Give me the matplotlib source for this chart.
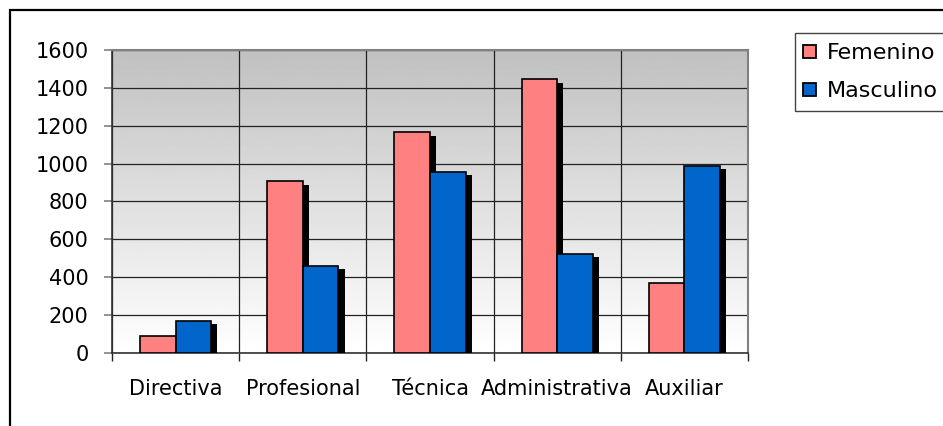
import numpy as np
import matplotlib
matplotlib.use('Agg')
import matplotlib.pyplot as plt
from matplotlib.patches import Rectangle, Patch
import matplotlib.patheffects as pe

categorias = ['Directiva', 'Profesional', 'Técnica', 'Administrativa', 'Auxiliar']
femenino = [90, 908, 1165, 1445, 370]
masculino = [170, 461, 957, 523, 989]
series_names = ['Femenino', 'Masculino']
yticks = [0, 200, 400, 600, 800, 1000, 1200, 1400, 1600]

colorF = '#FF8080'
colorM = '#0066CC'

plt.rcParams['font.family'] = ['DejaVu Sans']

fig = plt.figure(figsize=(9.43, 4.26), dpi=100)
fig.patch.set_facecolor('white')

# outer chart frame (runs off the right and bottom of the picture)
fig.add_artist(Rectangle((9.5 / 943, -0.1), 1.2, 1 - 9.5 / 426 + 0.1,
                         transform=fig.transFigure, fill=False,
                         edgecolor='black', linewidth=1.6))

ax = fig.add_axes([112 / 943, 1 - 353 / 426, (748 - 112) / 943, (353 - 50) / 426])

# gray (top) to white (bottom) gradient background
grad = np.linspace(0.753, 1.0, 256).reshape(-1, 1)
ax.imshow(grad, cmap='gray', vmin=0, vmax=1, aspect='auto', origin='upper',
          extent=[0, 1, 0, 1], transform=ax.transAxes, zorder=0)

x = np.arange(len(categorias))
w = 0.28
shadow = [pe.withSimplePatchShadow(offset=(4.4, -2.5), shadow_rgbFace='black', alpha=1.0)]

barsF = ax.bar(x - w / 2, femenino, w, color=colorF, edgecolor='black', linewidth=1.2, zorder=3)
barsM = ax.bar(x + w / 2, masculino, w, color=colorM, edgecolor='black', linewidth=1.2, zorder=3)
for b in list(barsF) + list(barsM):
    b.set_path_effects(shadow)

ax.set_xlim(-0.5, len(categorias) - 0.5)
ax.set_ylim(0, 1600)

ax.set_xticks(x)
ax.set_xticklabels(categorias)
ax.set_xticks(np.arange(len(categorias) + 1) - 0.5, minor=True)
ax.tick_params(axis='x', which='major', length=0, pad=19, labelsize=15)
ax.tick_params(axis='x', which='minor', length=5.5, width=1, color='#222222')
ax.set_yticks(yticks)
ax.tick_params(axis='y', length=6, width=1.2, color='#808080', pad=11, labelsize=15)

ax.grid(axis='y', which='major', color='#222222', linewidth=0.9, zorder=1)
ax.grid(axis='x', which='minor', color='#222222', linewidth=0.9, zorder=1)
ax.set_axisbelow(True)

for s in ['left', 'bottom']:
    ax.spines[s].set_color('#333333')
    ax.spines[s].set_linewidth(1.2)
for s in ['top', 'right']:
    ax.spines[s].set_color('#808080')
    ax.spines[s].set_linewidth(1.5)

# legend box (its right side runs off the picture)
fig.add_artist(Rectangle((795 / 943, 1 - 110.7 / 426), 0.3, (110.7 - 32.7) / 426,
                         transform=fig.transFigure, fill=False,
                         edgecolor='#444444', linewidth=1.0))
handles = [Patch(facecolor=colorF, edgecolor='black', linewidth=1.3),
           Patch(facecolor=colorM, edgecolor='black', linewidth=1.3)]
fig.legend(handles, series_names, loc='upper left',
           bbox_to_anchor=(799 / 943, 1 - 39 / 426), frameon=False,
           fontsize=16, handlelength=0.55, handleheight=0.55,
           handletextpad=0.5, labelspacing=0.8, borderpad=0.2, borderaxespad=0)

fig.savefig('out.png', dpi=100)
